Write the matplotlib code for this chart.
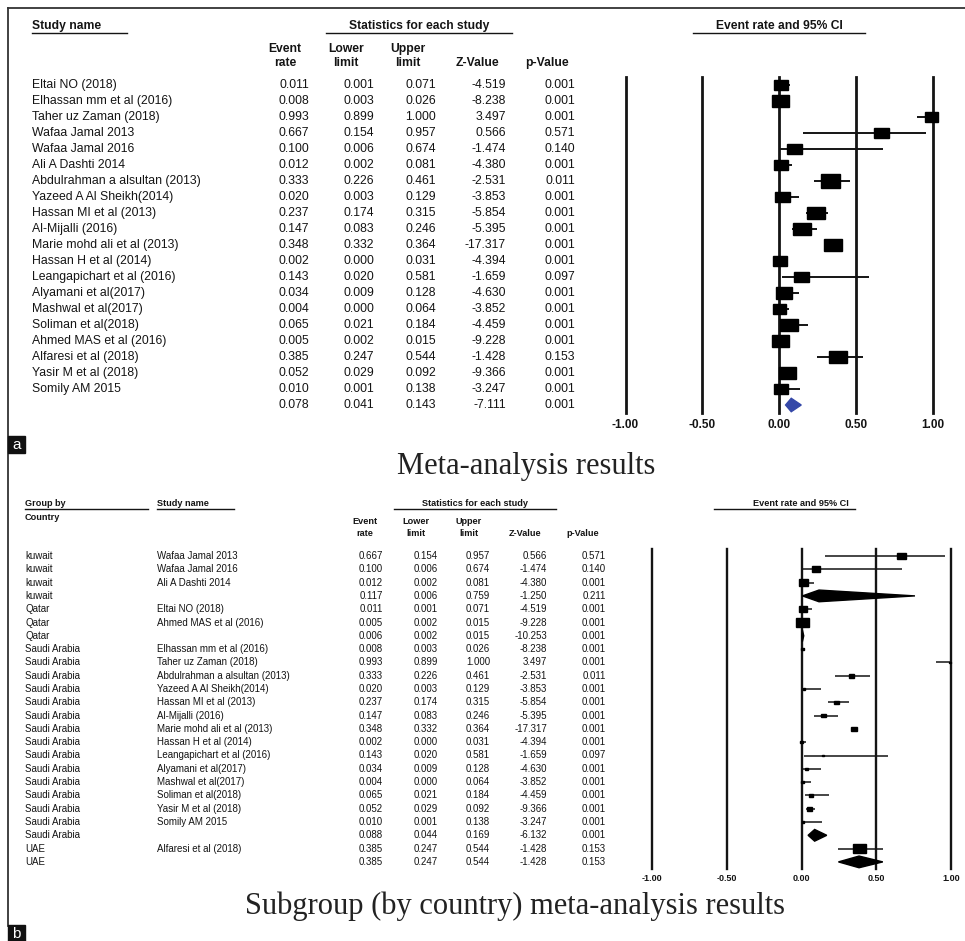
import matplotlib
matplotlib.use("Agg")
import matplotlib.pyplot as plt
from matplotlib.patches import Rectangle, Polygon

plt.rcParams["font.family"] = ["Liberation Sans", "DejaVu Sans"]

W, H = 965, 941
INK = "#141414"

#####
# data - panel a (all studies)
#####
studies_a = ["Eltai NO (2018)", "Elhassan mm et al (2016)", "Taher uz Zaman (2018)",
             "Wafaa Jamal 2013", "Wafaa Jamal 2016", "Ali A Dashti 2014",
             "Abdulrahman a alsultan (2013)", "Yazeed A Al Sheikh(2014)",
             "Hassan MI et al (2013)", "Al-Mijalli (2016)", "Marie mohd ali et al (2013)",
             "Hassan H et al (2014)", "Leangapichart et al (2016)", "Alyamani et al(2017)",
             "Mashwal et al(2017)", "Soliman et al(2018)", "Ahmed MAS et al (2016)",
             "Alfaresi et al (2018)", "Yasir M et al (2018)", "Somily AM 2015"]
rate_a = [0.011, 0.008, 0.993, 0.667, 0.100, 0.012, 0.333, 0.020, 0.237, 0.147,
          0.348, 0.002, 0.143, 0.034, 0.004, 0.065, 0.005, 0.385, 0.052, 0.010]
lower_a = [0.001, 0.003, 0.899, 0.154, 0.006, 0.002, 0.226, 0.003, 0.174, 0.083,
           0.332, 0.000, 0.020, 0.009, 0.000, 0.021, 0.002, 0.247, 0.029, 0.001]
upper_a = [0.071, 0.026, 1.000, 0.957, 0.674, 0.081, 0.461, 0.129, 0.315, 0.246,
           0.364, 0.031, 0.581, 0.128, 0.064, 0.184, 0.015, 0.544, 0.092, 0.138]
z_a = [-4.519, -8.238, 3.497, 0.566, -1.474, -4.380, -2.531, -3.853, -5.854, -5.395,
       -17.317, -4.394, -1.659, -4.630, -3.852, -4.459, -9.228, -1.428, -9.366, -3.247]
p_a = [0.001, 0.001, 0.001, 0.571, 0.140, 0.001, 0.011, 0.001, 0.001, 0.001,
       0.001, 0.001, 0.097, 0.001, 0.001, 0.001, 0.001, 0.153, 0.001, 0.001]
# relative study weights
weight_a = [14, 17, 13, 15, 15, 14, 19, 15, 18, 18,
            18, 14, 15, 16, 13, 18, 17, 18, 17, 14]
pooled_a = [0.078, 0.041, 0.143, -7.111, 0.001]

#####
# data - panel b (subgroups by country)
#####
country_b = ["kuwait"] * 4 + ["Qatar"] * 3 + ["Saudi Arabia"] * 15 + ["UAE"] * 2
studies_b = ["Wafaa Jamal 2013", "Wafaa Jamal 2016", "Ali A Dashti 2014", "",
             "Eltai NO (2018)", "Ahmed MAS et al (2016)", "",
             "Elhassan mm et al (2016)", "Taher uz Zaman (2018)",
             "Abdulrahman a alsultan (2013)", "Yazeed A Al Sheikh(2014)",
             "Hassan MI et al (2013)", "Al-Mijalli (2016)", "Marie mohd ali et al (2013)",
             "Hassan H et al (2014)", "Leangapichart et al (2016)", "Alyamani et al(2017)",
             "Mashwal et al(2017)", "Soliman et al(2018)", "Yasir M et al (2018)",
             "Somily AM 2015", "", "Alfaresi et al (2018)", ""]
rate_b = [0.667, 0.100, 0.012, 0.117, 0.011, 0.005, 0.006, 0.008, 0.993, 0.333,
          0.020, 0.237, 0.147, 0.348, 0.002, 0.143, 0.034, 0.004, 0.065, 0.052,
          0.010, 0.088, 0.385, 0.385]
lower_b = [0.154, 0.006, 0.002, 0.006, 0.001, 0.002, 0.002, 0.003, 0.899, 0.226,
           0.003, 0.174, 0.083, 0.332, 0.000, 0.020, 0.009, 0.000, 0.021, 0.029,
           0.001, 0.044, 0.247, 0.247]
upper_b = [0.957, 0.674, 0.081, 0.759, 0.071, 0.015, 0.015, 0.026, 1.000, 0.461,
           0.129, 0.315, 0.246, 0.364, 0.031, 0.581, 0.128, 0.064, 0.184, 0.092,
           0.138, 0.169, 0.544, 0.544]
z_b = [0.566, -1.474, -4.380, -1.250, -4.519, -9.228, -10.253, -8.238, 3.497, -2.531,
       -3.853, -5.854, -5.395, -17.317, -4.394, -1.659, -4.630, -3.852, -4.459, -9.366,
       -3.247, -6.132, -1.428, -1.428]
p_b = [0.571, 0.140, 0.001, 0.211, 0.001, 0.001, 0.001, 0.001, 0.001, 0.011,
       0.001, 0.001, 0.001, 0.001, 0.001, 0.097, 0.001, 0.001, 0.001, 0.001,
       0.001, 0.001, 0.153, 0.153]
# relative weights within the overall model (0 = subgroup summary row)
weight_b = [9, 8, 9, 0, 8, 13, 0, 3, 2, 5, 2, 5, 5, 6, 3, 2, 3, 3, 4, 5, 2, 0, 13, 0]

ticks = [-1.0, -0.5, 0.0, 0.5, 1.0]


def px_axes(fig, x0, y0, x1, y1):
    return fig.add_axes([x0 / W, 1 - y1 / H, (x1 - x0) / W, (y1 - y0) / H])


def draw_panel(fig, rows, table_cols, name_cols, top, dy, fx0, fx1,
               fsize, lw_ref, tick_size):
    n = len(rows[0])
    y0, y1 = top - dy / 2, top + (n - 0.5) * dy
    ta = px_axes(fig, 0, y0, W, y1)
    ta.set_xlim(0, W)
    ta.set_ylim(n - 0.5, -0.5)
    ta.axis("off")
    for xcol, col in name_cols:
        for i, s in enumerate(col):
            ta.text(xcol, i, s, ha="left", va="center", fontsize=fsize, color=INK)
    for xcol, col in zip(table_cols, rows):
        for i, v in enumerate(col):
            ta.text(xcol, i, "%.3f" % v, ha="right", va="center", fontsize=fsize, color=INK)

    fa = px_axes(fig, fx0, y0, fx1, y1)
    fa.set_xlim(-1, 1)
    fa.set_ylim(n - 0.5, -0.5)
    fa.patch.set_visible(False)
    for sp in fa.spines.values():
        sp.set_visible(False)
    fa.set_yticks([])
    fa.set_xticks(ticks)
    fa.set_xticklabels(["%.2f" % t for t in ticks], fontsize=tick_size,
                       fontweight="bold", color=INK)
    fa.tick_params(axis="x", length=0, pad=4)
    for t in ticks:
        fa.axvline(t, color=INK, lw=lw_ref, clip_on=False, zorder=1)
    return fa, dy, (fx1 - fx0) / 2.0


fig = plt.figure(figsize=(W / 100, H / 100), dpi=100)
bg = fig.add_axes([0, 0, 1, 1])
bg.set_xlim(0, W)
bg.set_ylim(H, 0)
bg.axis("off")

# frame and panel tags
bg.plot([8, W], [8, 8], color="#333333", lw=1.3)
bg.plot([8, 8], [8, 926], color="#333333", lw=1.3)
for tag, (tx, ty) in [("a", (8, 436)), ("b", (8, 925))]:
    bg.add_patch(Rectangle((tx, ty), 17, 17, color="#111111", zorder=3))
    bg.text(tx + 8.5, ty + 8.5, tag, color="white", ha="center", va="center",
            fontsize=11, zorder=4)

bg.text(526, 466, "Meta-analysis results", family=["Liberation Serif"],
        fontsize=22, ha="center", va="center", color="#222222")
bg.text(515, 906, "Subgroup (by country) meta-analysis results",
        family=["Liberation Serif"], fontsize=22, ha="center", va="center",
        color="#222222")


def header(x, y, s, size, ha="center", line=None, gap=7):
    bg.text(x, y, s, ha=ha, va="center", fontsize=size, fontweight="bold", color=INK)
    if line is not None:
        bg.plot(line, [y + gap, y + gap], color=INK, lw=1.0)


#####
# panel a
#####
hs = 8.7
header(32, 26, "Study name", hs, ha="left", line=[32, 127])
header(419, 26, "Statistics for each study", hs, line=[326, 512])
header(779, 26, "Event rate and 95% CI", hs, line=[693, 865])
for xc, l1, l2 in [(285, "Event", "rate"), (346, "Lower", "limit"), (408, "Upper", "limit")]:
    header(xc, 49, l1, hs)
    header(xc, 63, l2, hs)
header(477, 63, "Z-Value", hs)
header(547, 63, "p-Value", hs)

rows_a = [rate_a + [pooled_a[0]], lower_a + [pooled_a[1]], upper_a + [pooled_a[2]],
          z_a + [pooled_a[3]], p_a + [pooled_a[4]]]
fa, dy, ppu = draw_panel(fig, rows_a, [309, 374, 436, 506, 575],
                         [(32, studies_a)], 85, 16, 625.5, 933, 8.8, 2.0, 8.5)
for i in range(len(studies_a)):
    fa.plot([lower_a[i], upper_a[i]], [i, i], color=INK, lw=1.4, zorder=2,
            solid_capstyle="butt", clip_on=False)
    w = weight_a[i] / ppu
    h = 0.72 * weight_a[i] / dy
    fa.add_patch(Rectangle((rate_a[i] - w / 2, i - h / 2), w, h, color="#000000",
                           zorder=3, clip_on=False))
k = len(studies_a)
fa.add_patch(Polygon([(pooled_a[1], k), (pooled_a[0], k - 0.42),
                      (pooled_a[2], k), (pooled_a[0], k + 0.42)],
                     closed=True, color="#3548a8", zorder=3))

#####
# panel b
#####
hb = 6.6
header(25, 503, "Group by", hb, ha="left", line=[25, 148], gap=5.5)
header(25, 517, "Country", hb, ha="left")
header(157, 503, "Study name", hb, ha="left", line=[157, 234], gap=5.5)
header(475, 503, "Statistics for each study", hb, line=[394, 556], gap=5.5)
header(801, 503, "Event rate and 95% CI", hb, line=[714, 855], gap=5.5)
for xc, l1, l2 in [(365, "Event", "rate"), (416, "Lower", "limit"), (469, "Upper", "limit")]:
    header(xc, 521, l1, hb)
    header(xc, 533, l2, hb)
header(525, 533, "Z-Value", hb)
header(583, 533, "p-Value", hb)

rows_b = [rate_b, lower_b, upper_b, z_b, p_b]
fb, dyb, ppub = draw_panel(fig, rows_b, [383, 438, 490, 547, 606],
                           [(25, country_b), (157, studies_b)], 556, 13.3,
                           652, 951, 7.0, 1.7, 6.5)
for i in range(len(rate_b)):
    if weight_b[i] == 0:
        fb.add_patch(Polygon([(lower_b[i], i), (rate_b[i], i - 0.44),
                              (upper_b[i], i), (rate_b[i], i + 0.44)],
                             closed=True, color="#000000", zorder=3, clip_on=False))
        continue
    fb.plot([lower_b[i], upper_b[i]], [i, i], color=INK, lw=1.1, zorder=2,
            solid_capstyle="butt", clip_on=False)
    w = weight_b[i] / ppub
    h = 0.72 * weight_b[i] / dyb
    fb.add_patch(Rectangle((rate_b[i] - w / 2, i - h / 2), w, h, color="#000000",
                           zorder=3, clip_on=False))

fig.savefig("out.png", dpi=100)
